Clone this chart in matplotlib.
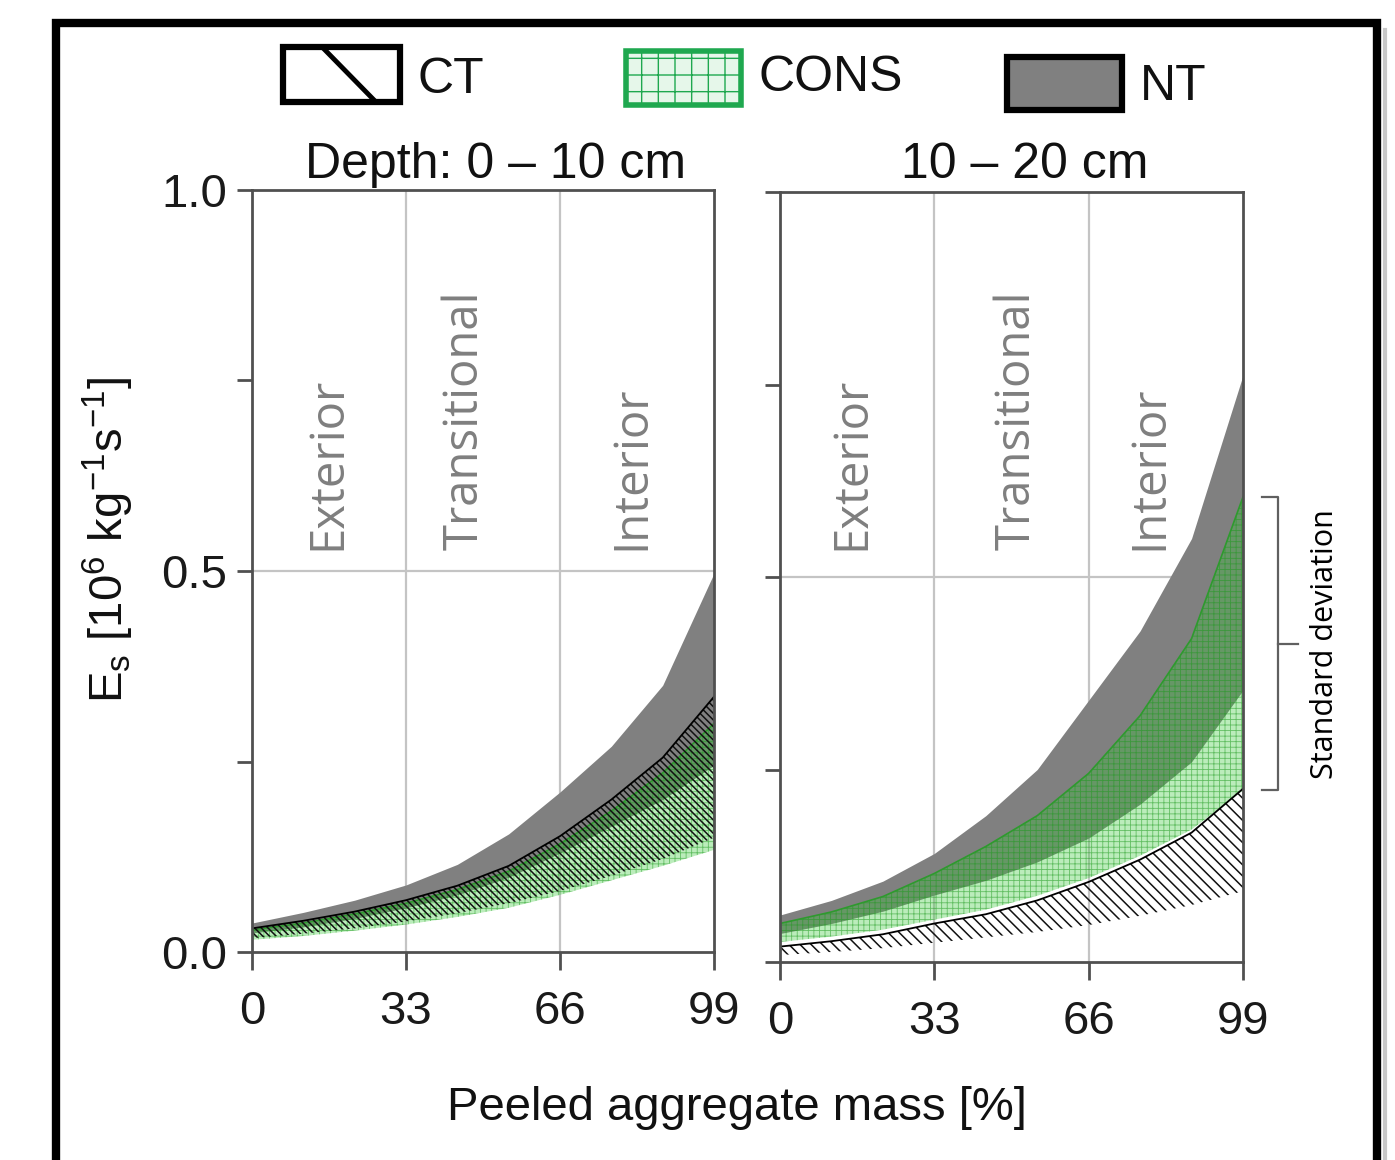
import matplotlib
matplotlib.use("Agg")
import matplotlib.pyplot as plt
from matplotlib.patches import Rectangle
from matplotlib.lines import Line2D

# ---------------- data ----------------
mass = [0, 11, 22, 33, 44, 55, 66, 77, 88, 99]

# Depth 0-10 cm
nt_hi_0 = [0.038, 0.052, 0.068, 0.088, 0.115, 0.155, 0.210, 0.270, 0.350, 0.497]
nt_lo_0 = [0.025, 0.033, 0.044, 0.058, 0.075, 0.098, 0.130, 0.165, 0.200, 0.245]
ct_hi_0 = [0.031, 0.041, 0.053, 0.068, 0.087, 0.113, 0.152, 0.200, 0.255, 0.335]
ct_lo_0 = [0.018, 0.024, 0.031, 0.040, 0.051, 0.064, 0.080, 0.100, 0.122, 0.150]
cons_hi_0 = [0.029, 0.038, 0.050, 0.064, 0.082, 0.106, 0.142, 0.185, 0.235, 0.300]
cons_lo_0 = [0.016, 0.021, 0.028, 0.036, 0.046, 0.058, 0.075, 0.094, 0.113, 0.134]

# Depth 10-20 cm
nt_hi_1 = [0.061, 0.080, 0.105, 0.141, 0.190, 0.250, 0.340, 0.430, 0.550, 0.762]
nt_lo_1 = [0.037, 0.050, 0.066, 0.087, 0.106, 0.130, 0.161, 0.205, 0.260, 0.353]
cons_hi_1 = [0.050, 0.065, 0.085, 0.115, 0.150, 0.190, 0.245, 0.320, 0.420, 0.604]
cons_lo_1 = [0.026, 0.033, 0.042, 0.055, 0.068, 0.086, 0.109, 0.138, 0.172, 0.223]
ct_hi_1 = [0.020, 0.027, 0.036, 0.050, 0.062, 0.080, 0.104, 0.133, 0.168, 0.225]
ct_lo_1 = [0.009, 0.013, 0.018, 0.025, 0.032, 0.039, 0.048, 0.060, 0.074, 0.092]

panel_titles = ["Depth: 0 \u2013 10 cm", "10 \u2013 20 cm"]
zone_labels = ["Exterior", "Transitional", "Interior"]
zone_x = [[16.3, 45.6, 81.4], [15.4, 50.7, 79.1]]
xticks = [0, 33, 66, 99]
yticks = [0, 0.25, 0.5, 0.75, 1.0]
ytick_labels = ["0.0", "", "0.5", "", "1.0"]
legend_names = ["CT", "CONS", "NT"]

# ---------------- style ----------------
FONT = ["Liberation Sans", "DejaVu Sans"]
ZFONT = ["Open Sans", "DejaVu Sans"]
SPINE = "#505050"
GRID = "#c4c4c4"
NT_COL = "#808080"
CONS_FACE = (0.2, 0.78, 0.2, 0.33)
CONS_HATCH = (0.1, 0.6, 0.1, 0.55)
CONS_LINE = "#2e9a2e"

W, H = 1395, 1160
fig = plt.figure(figsize=(W / 100, H / 100), dpi=100)
fig.patch.set_facecolor("white")


def fx(px):
    return px / W


def fy(py):
    return 1 - py / H


ax0 = fig.add_axes([fx(252), fy(952), fx(714) - fx(252), fy(190) - fy(952)])
ax1 = fig.add_axes([fx(780), fy(962), fx(1243) - fx(780), fy(192) - fy(962)])

panels = [
    (ax0, nt_lo_0, nt_hi_0, cons_lo_0, cons_hi_0, ct_lo_0, ct_hi_0, "\\" * 5),
    (ax1, nt_lo_1, nt_hi_1, cons_lo_1, cons_hi_1, ct_lo_1, ct_hi_1, "\\" * 3),
]

for i, (ax, ntl, nth, cl, ch, tl, th, hpat) in enumerate(panels):
    ax.set_xlim(0, 99)
    ax.set_ylim(0, 1)
    for v in xticks[1:3]:
        ax.axvline(v, color=GRID, lw=1.6, zorder=1)
    ax.axhline(0.5, color=GRID, lw=1.6, zorder=1)

    ax.fill_between(mass, ntl, nth, color=NT_COL, lw=0, zorder=2)
    with plt.rc_context({"hatch.linewidth": 0.6}):
        ax.fill_between(mass, cl, ch, facecolor=CONS_FACE, edgecolor=CONS_HATCH,
                        hatch="+++", lw=0, zorder=3)
    ax.plot(mass, ch, color=CONS_LINE, lw=1.2, zorder=3.5)
    with plt.rc_context({"hatch.linewidth": 1.1}):
        ax.fill_between(mass, tl, th, facecolor="none", edgecolor="#111111",
                        hatch=hpat, lw=0, zorder=4)
    ax.plot(mass, th, color="black", lw=1.3, zorder=4.5)

    for spine in ax.spines.values():
        spine.set_color(SPINE)
        spine.set_linewidth(2)
        spine.set_zorder(6)
    ax.set_xticks(xticks)
    ax.set_xticklabels([str(t) for t in xticks], fontsize=34, family=FONT, color="#1a1a1a")
    ax.set_yticks(yticks)
    if i == 0:
        ax.set_yticklabels(ytick_labels, fontsize=34, family=FONT, color="#1a1a1a")
    else:
        ax.set_yticklabels([])
    ax.tick_params(axis="x", direction="out", length=13, width=2, color=SPINE, pad=14)
    ax.tick_params(axis="y", direction="out", length=11, width=2, color=SPINE, pad=7)

    ybase = 0.528 if i == 0 else 0.535
    for lab, xv in zip(zone_labels, zone_x[i]):
        ax.text(xv, ybase, lab, rotation=90, ha="center", va="bottom",
                fontsize=34, family=ZFONT, color="#7f7f7f", zorder=7)

ax0.text(0.526, 1.016, panel_titles[0], transform=ax0.transAxes, ha="center",
         va="baseline", fontsize=36, family=FONT, color="#111111")
ax1.text(0.529, 1.018, panel_titles[1], transform=ax1.transAxes, ha="center",
         va="baseline", fontsize=36, family=FONT, color="#111111")

# Standard deviation bracket (spanning the CONS band at the last point)
top, bot = cons_hi_1[-1], cons_lo_1[-1]
mid = (top + bot) / 2
bk = dict(color="#606060", lw=1.6, clip_on=False, zorder=7)
ax1.plot([103.1, 106.5, 106.5, 103.1], [top, top, bot, bot], **bk)
ax1.plot([106.5, 110.7], [mid, mid], **bk)
ax1.text(116.5, mid, "Standard deviation", rotation=90, ha="center", va="center",
         fontsize=22, family=ZFONT, color="black", clip_on=False)

# axis labels
fig.text(fx(737), fy(1108), "Peeled aggregate mass [%]", ha="center", va="center",
         fontsize=34, family=FONT, color="#111111")
fig.text(fx(108), fy(540), r"E$_\mathregular{s}$ [10$^\mathregular{6}$ kg$^\mathregular{-1}$s$^\mathregular{-1}$]",
         rotation=90, ha="center", va="center", fontsize=34, family=FONT, color="#111111")

# legend (figure coordinates)
def box(x0, y0, x1, y1, **kw):
    r = Rectangle((fx(x0), fy(y1)), fx(x1) - fx(x0), fy(y0) - fy(y1),
                  transform=fig.transFigure, **kw)
    fig.add_artist(r)

box(283, 47, 400, 102, facecolor="white", edgecolor="black", lw=4.5)
fig.add_artist(Line2D([fx(325), fx(373)], [fy(50), fy(99)], transform=fig.transFigure,
                      color="black", lw=3.5))
fig.text(fx(418), fy(80), legend_names[0], ha="left", va="center", fontsize=36,
         family=FONT, color="#111111")
with plt.rc_context({"hatch.linewidth": 1.0}):
    box(626, 51, 741, 105, facecolor="#e6f7ea", edgecolor="#1fa84f", lw=4, hatch="+")
fig.text(fx(758), fy(78), legend_names[1], ha="left", va="center", fontsize=36,
         family=FONT, color="#111111")
box(1007, 57, 1122, 110, facecolor=NT_COL, edgecolor="black", lw=4.5)
fig.text(fx(1140), fy(87), legend_names[2], ha="left", va="center", fontsize=36,
         family=FONT, color="#111111")

# outer frame
fig.add_artist(Rectangle((fx(56), -0.05), fx(1377) - fx(56), fy(23) + 0.05,
                         transform=fig.transFigure, fill=False, edgecolor="black", lw=6))
fig.add_artist(Line2D([fx(1385), fx(1385)], [-0.05, fy(30)], transform=fig.transFigure,
                      color="#c8c8c8", lw=3))

fig.savefig("out.png", dpi=100)
